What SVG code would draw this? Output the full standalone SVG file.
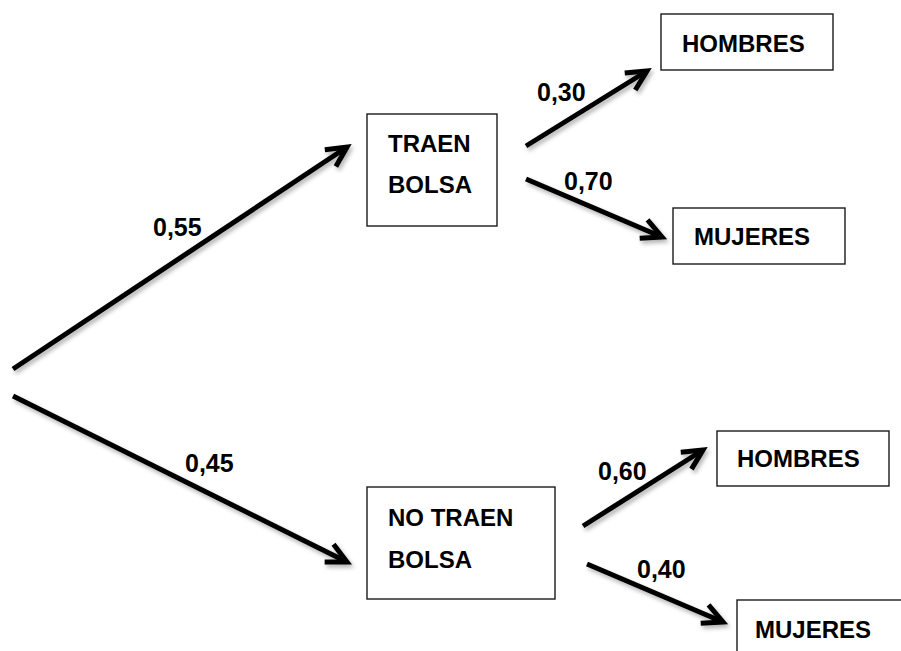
<svg xmlns="http://www.w3.org/2000/svg" width="901" height="651" viewBox="0 0 901 651">
  <style>
    .box { fill: #fff; stroke: #1a1a1a; stroke-width: 1.4; }
    .t { font-family: "Liberation Sans", Arial, sans-serif; font-weight: bold; font-size: 24px; fill: #000; }
    .lbl { font-family: "Liberation Sans", Arial, sans-serif; font-weight: bold; font-size: 25px; fill: #000; }
    .arrow { stroke: #000; stroke-width: 5; fill: none; marker-end: url(#arr); }
  </style>
  <defs>
    <marker id="arr" markerUnits="userSpaceOnUse" viewBox="-26 -16 34 32" markerWidth="34" markerHeight="32" refX="0" refY="0" orient="auto" overflow="visible">
      <path d="M-20,-10 L0,0 L-20,10" fill="none" stroke="#000" stroke-width="5" stroke-linejoin="miter"/>
    </marker>
    <filter id="sh" x="-10%" y="-10%" width="120%" height="130%">
      <feDropShadow dx="2" dy="3" stdDeviation="2" flood-color="#000" flood-opacity="0.3"/>
    </filter>
  </defs>
  <rect width="901" height="651" fill="#fff"/>

  <g id="connectors" filter="url(#sh)">
    <line class="arrow" x1="13" y1="369" x2="347" y2="147"/>
    <line class="arrow" x1="13" y1="396" x2="347" y2="562"/>
    <line class="arrow" x1="526" y1="146" x2="647" y2="71"/>
    <line class="arrow" x1="526" y1="179" x2="662" y2="237"/>
    <line class="arrow" x1="583" y1="526" x2="703" y2="450"/>
    <line class="arrow" x1="587" y1="564" x2="723" y2="622"/>
  </g>

  <g id="labels">
    <text class="lbl" x="153" y="236">0,55</text>
    <text class="lbl" x="185" y="472">0,45</text>
    <text class="lbl" x="537" y="101">0,30</text>
    <text class="lbl" x="564" y="190">0,70</text>
    <text class="lbl" x="598" y="480">0,60</text>
    <text class="lbl" x="637" y="578">0,40</text>
  </g>

  <g id="traen-bolsa">
    <rect class="box" x="367" y="114" width="130" height="112"/>
    <text class="t" x="388" y="152">TRAEN</text>
    <text class="t" x="388" y="193">BOLSA</text>
  </g>
  <g id="no-traen-bolsa">
    <rect class="box" x="367" y="487" width="188" height="112"/>
    <text class="t" x="388" y="526">NO TRAEN</text>
    <text class="t" x="388" y="568">BOLSA</text>
  </g>
  <g id="hombres-1">
    <rect class="box" x="661" y="14" width="172" height="56"/>
    <text class="t" x="682" y="52">HOMBRES</text>
  </g>
  <g id="mujeres-1">
    <rect class="box" x="673" y="208" width="172" height="56"/>
    <text class="t" x="694" y="245">MUJERES</text>
  </g>
  <g id="hombres-2">
    <rect class="box" x="717" y="431" width="172" height="55"/>
    <text class="t" x="737" y="467">HOMBRES</text>
  </g>
  <g id="mujeres-2">
    <rect class="box" x="737" y="600" width="180" height="70"/>
    <text class="t" x="755" y="638">MUJERES</text>
  </g>
</svg>
